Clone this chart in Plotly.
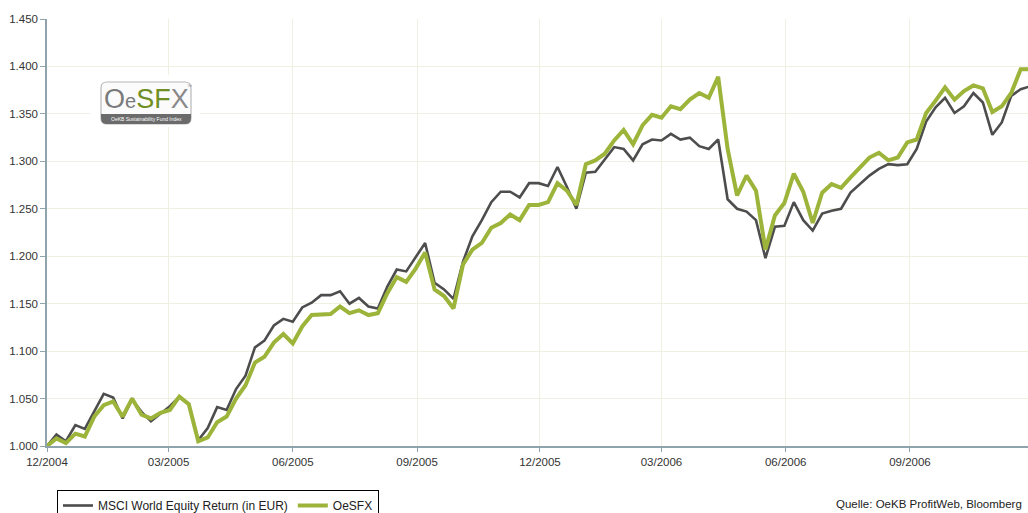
import pandas as pd
import plotly.graph_objects as go

# weekly observation dates
dates = pd.date_range("2004-12-01", periods=105, freq="7D")

msci = [1.000, 1.012, 1.005, 1.022, 1.018, 1.036, 1.055, 1.051, 1.029, 1.049,
        1.036, 1.026, 1.034, 1.042, 1.052, 1.044, 1.006, 1.019, 1.041, 1.038,
        1.060, 1.074, 1.104, 1.111, 1.127, 1.134, 1.131, 1.146, 1.151, 1.159,
        1.159, 1.163, 1.150, 1.156, 1.147, 1.145, 1.168, 1.186, 1.184, 1.199,
        1.214, 1.172, 1.165, 1.155, 1.194, 1.221, 1.238, 1.257, 1.268, 1.268,
        1.262, 1.277, 1.277, 1.274, 1.294, 1.273, 1.250, 1.288, 1.289, 1.302,
        1.315, 1.313, 1.301, 1.318, 1.323, 1.322, 1.329, 1.323, 1.325, 1.316,
        1.313, 1.323, 1.260, 1.250, 1.247, 1.238, 1.198, 1.231, 1.232, 1.257,
        1.238, 1.227, 1.245, 1.248, 1.250, 1.267, 1.276, 1.285, 1.292, 1.297,
        1.296, 1.297, 1.313, 1.342, 1.357, 1.367, 1.351, 1.358, 1.372, 1.362,
        1.328, 1.341, 1.369, 1.376, 1.379]

oesfx = [1.000, 1.008, 1.003, 1.013, 1.010, 1.031, 1.043, 1.047, 1.031, 1.050,
         1.033, 1.029, 1.035, 1.038, 1.052, 1.044, 1.005, 1.009, 1.025, 1.031,
         1.050, 1.064, 1.088, 1.094, 1.109, 1.118, 1.108, 1.126, 1.138, 1.138,
         1.139, 1.147, 1.140, 1.143, 1.138, 1.140, 1.161, 1.178, 1.173, 1.187,
         1.204, 1.165, 1.158, 1.145, 1.191, 1.207, 1.214, 1.230, 1.235, 1.244,
         1.238, 1.254, 1.254, 1.257, 1.277, 1.269, 1.254, 1.297, 1.301, 1.308,
         1.322, 1.333, 1.318, 1.338, 1.349, 1.346, 1.358, 1.355, 1.365, 1.372,
         1.367, 1.389, 1.313, 1.264, 1.285, 1.269, 1.207, 1.243, 1.256, 1.287,
         1.268, 1.235, 1.267, 1.276, 1.272, 1.283, 1.293, 1.304, 1.309, 1.301,
         1.304, 1.320, 1.323, 1.351, 1.364, 1.378, 1.365, 1.374, 1.380, 1.377,
         1.352, 1.358, 1.372, 1.397, 1.397]

x_tickvals = ["2004-12-01", "2005-03-01", "2005-06-01", "2005-09-01",
              "2005-12-01", "2006-03-01", "2006-06-01", "2006-09-01"]
x_ticktext = ["12/2004", "03/2005", "06/2005", "09/2005",
              "12/2005", "03/2006", "06/2006", "09/2006"]
y_tickvals = [1.00, 1.05, 1.10, 1.15, 1.20, 1.25, 1.30, 1.35, 1.40, 1.45]
y_ticktext = ["1.000", "1.050", "1.100", "1.150", "1.200", "1.250",
              "1.300", "1.350", "1.400", "1.450"]

W, H = 1028, 513
L, R, T, B = 47, 0, 19, 67
PW, PH = W - L - R, H - T - B


def px(xp):
    return (xp - L) / PW


def py(yp):
    return (H - B - yp) / PH


FONT = "Liberation Sans, Arial, sans-serif"
AXIS_COL = "#8fa3ad"
GRID_COL = "#efefe2"

fig = go.Figure()
fig.add_trace(go.Scatter(x=dates, y=msci, mode="lines",
                         name="MSCI World Equity Return (in EUR)",
                         line=dict(color="#4d4d4d", width=2.6)))
fig.add_trace(go.Scatter(x=dates, y=oesfx, mode="lines", name="OeSFX",
                         line=dict(color="#9cb43a", width=4)))

x0, x1, y0, y1, r = 101, 191, 82, 124, 6


def P(a, b):
    return f"{px(a)},{py(b)}"


path = (f"M {P(x0 + r, y0)} L {P(x1 - r, y0)} Q {P(x1, y0)} {P(x1, y0 + r)} "
        f"L {P(x1, y1 - r)} Q {P(x1, y1)} {P(x1 - r, y1)} "
        f"L {P(x0 + r, y1)} Q {P(x0, y1)} {P(x0, y1 - r)} "
        f"L {P(x0, y0 + r)} Q {P(x0, y0)} {P(x0 + r, y0)} Z")
band = (f"M {P(x0, 114)} L {P(x1, 114)} L {P(x1, y1 - r)} Q {P(x1, y1)} {P(x1 - r, y1)} "
        f"L {P(x0 + r, y1)} Q {P(x0, y1)} {P(x0, y1 - r)} Z")
shapes = [
    dict(type="rect", xref="paper", yref="paper", x0=px(90), x1=px(200),
         y0=py(127), y1=py(75), fillcolor="white", line=dict(width=0), layer="above"),
    dict(type="path", xref="paper", yref="paper", path=path,
         fillcolor="#fbfbfb", line=dict(color="#b8b8b8", width=1.2), layer="above"),
    dict(type="path", xref="paper", yref="paper", path=band,
         fillcolor="#6b6b6b", line=dict(width=0), layer="above"),
]

annotations = [
    dict(xref="paper", yref="paper", x=px(146), y=py(99), xanchor="center", yanchor="middle",
         text=("<span style='color:#7a7a7a'>O</span><span style='color:#7a7a7a;font-size:20px'>e</span>"
               "<span style='color:#6f8f25'>SF</span><span style='color:#8a8a8a'>X</span>"),
         showarrow=False, font=dict(family="Liberation Sans Narrow, Liberation Sans, Arial", size=27)),
    dict(xref="paper", yref="paper", x=px(185), y=py(86), xanchor="left", yanchor="middle",
         text="™", showarrow=False, font=dict(family=FONT, size=5, color="#888")),
    dict(xref="paper", yref="paper", x=px(146), y=py(119), xanchor="center", yanchor="middle",
         text="OeKB Sustainability Fund Index", showarrow=False,
         font=dict(family=FONT, size=5, color="white")),
    dict(xref="paper", yref="paper", x=px(834), y=py(504), xanchor="left", yanchor="middle",
         text="Quelle: OeKB ProfitWeb, Bloomberg", showarrow=False,
         font=dict(family=FONT, size=11.5, color="#222")),
]

fig.update_layout(
    width=W, height=H,
    margin=dict(l=L, r=R, t=T, b=B, autoexpand=False),
    paper_bgcolor="white", plot_bgcolor="white",
    font=dict(family=FONT, size=12, color="#333"),
    showlegend=True,
    legend=dict(orientation="h", x=px(57), y=py(490), xanchor="left", yanchor="top",
                bordercolor="#000", borderwidth=1, bgcolor="white",
                font=dict(family=FONT, size=12, color="#222"),
                itemwidth=30, tracegroupgap=0),
    shapes=shapes,
    annotations=annotations,
    xaxis=dict(type="date", range=["2004-12-01", "2006-11-27 10:00"],
               tickvals=x_tickvals, ticktext=x_ticktext,
               showgrid=True, gridcolor=GRID_COL, gridwidth=1,
               showline=True, linecolor=AXIS_COL, linewidth=1.5,
               ticks="outside", ticklen=4, tickcolor=AXIS_COL,
               tickfont=dict(family=FONT, size=11.5, color="#333"),
               zeroline=False),
    yaxis=dict(range=[1.0, 1.45], tickvals=y_tickvals, ticktext=y_ticktext,
               showgrid=True, gridcolor=GRID_COL, gridwidth=1,
               showline=True, linecolor=AXIS_COL, linewidth=1.5,
               ticks="outside", ticklen=5, tickcolor=AXIS_COL,
               tickfont=dict(family=FONT, size=11.5, color="#333"),
               zeroline=False),
)

fig.write_html("out.html")
